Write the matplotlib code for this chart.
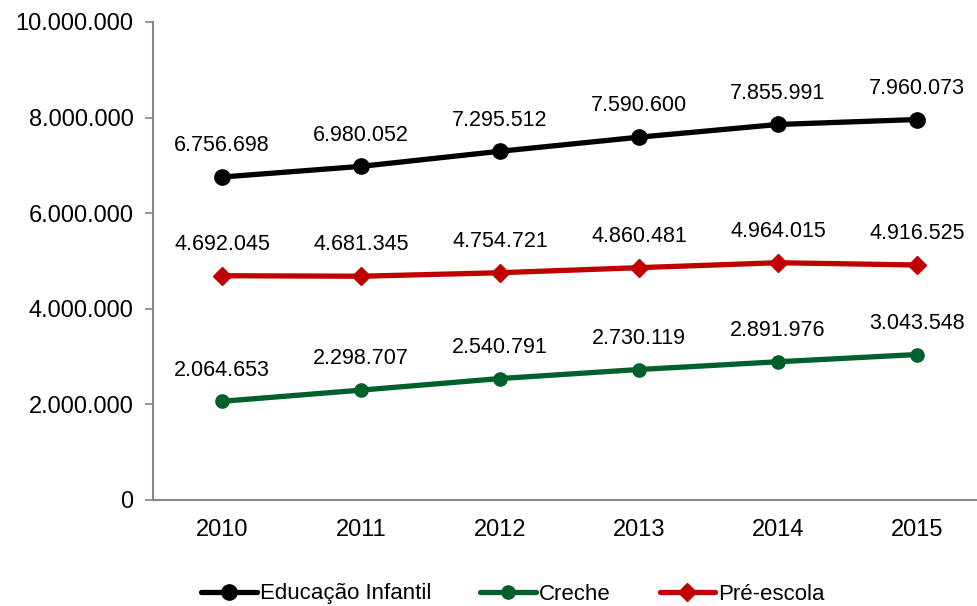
import matplotlib
matplotlib.use("Agg")
import matplotlib.pyplot as plt
from matplotlib import font_manager

years = ["2010", "2011", "2012", "2013", "2014", "2015"]
educacao = [6756698, 6980052, 7295512, 7590600, 7855991, 7960073]
creche = [2064653, 2298707, 2540791, 2730119, 2891976, 3043548]
pre_escola = [4692045, 4681345, 4754721, 4860481, 4964015, 4916525]
series_names = ["Educação Infantil", "Creche", "Pré-escola"]
yticks = [0, 2000000, 4000000, 6000000, 8000000, 10000000]


def fmt(v):
    return f"{v:,}".replace(",", ".")


names = {f.name for f in font_manager.fontManager.ttflist}
base = "Liberation Sans" if "Liberation Sans" in names else "DejaVu Sans"
plt.rcParams["font.family"] = [base, "DejaVu Sans"]

fig = plt.figure(figsize=(9.78, 6.06), dpi=100)
ax = fig.add_axes([153 / 978, 1 - 500 / 606, 825 / 978, 478 / 606])

x = list(range(len(years)))
styles = [
    (educacao, "#000000", "o", 11),
    (creche, "#00602B", "o", 9.5),
    (pre_escola, "#C00000", "D", 9),
]
for (vals, color, marker, ms), name in zip(styles, series_names):
    ax.plot(x, vals, color=color, lw=3.8, marker=marker, ms=ms,
            label=name, solid_capstyle="round")
    for xi, v in zip(x, vals):
        ax.annotate(fmt(v), (xi, v), xytext=(0, 22.5), textcoords="offset points",
                    ha="center", va="center", fontsize=15.5, color="#000000")

ax.set_xlim(-69 / 139, (978 - 222) / 139)
ax.set_ylim(0, 10000000)
ax.set_yticks(yticks)
ax.set_yticklabels([fmt(v) for v in yticks], fontsize=17)
ax.set_xticks(x)
ax.set_xticklabels(years, fontsize=17)
ax.tick_params(axis="x", length=0, pad=14)
ax.tick_params(axis="y", length=6, width=1.2, color="#888888", pad=8)
for s in ["top", "right"]:
    ax.spines[s].set_visible(False)
for s in ["left", "bottom"]:
    ax.spines[s].set_color("#888888")
    ax.spines[s].set_linewidth(1.5)

leg = fig.legend(loc="center", bbox_to_anchor=(513 / 978, 1 - 594 / 606), ncol=3,
                 frameon=False, handlelength=2.5, handletextpad=0.15,
                 columnspacing=2.2, prop={"size": 16})

fig.savefig("out.png", dpi=100)
